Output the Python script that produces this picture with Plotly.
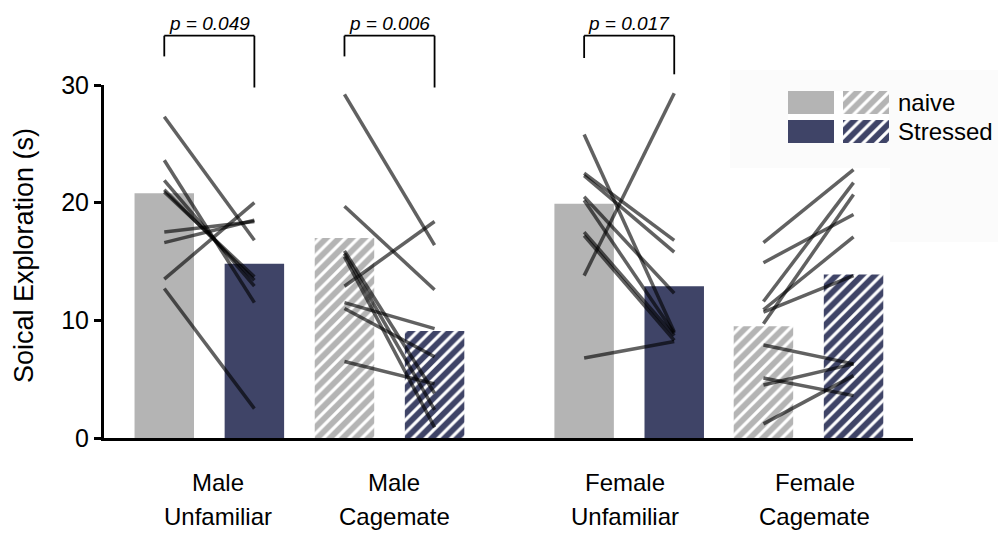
import plotly.graph_objects as go

# ---------------- data ----------------
groups = ["Male<br>Unfamiliar", "Male<br>Cagemate", "Female<br>Unfamiliar", "Female<br>Cagemate"]
conditions = ["naive", "Stressed"]
bar_naive = [20.8, 17.0, 19.9, 9.5]
bar_stressed = [14.8, 9.1, 12.9, 13.9]
hatched = [False, True, False, True]

mu_naive = [27.3, 23.6, 21.9, 21.1, 20.9, 17.5, 16.6, 13.5, 12.7]
mu_stressed = [16.8, 11.5, 12.9, 13.4, 13.7, 18.4, 18.5, 20.0, 2.5]
mc_naive = [29.2, 19.7, 15.9, 15.7, 15.4, 12.9, 11.5, 11.0, 6.5]
mc_stressed = [16.4, 12.6, 3.8, 2.4, 0.9, 18.4, 9.3, 6.9, 4.6]
fu_naive = [25.8, 13.8, 22.5, 22.3, 20.5, 20.2, 17.5, 17.2, 6.8]
fu_stressed = [9.0, 29.3, 16.8, 15.8, 12.3, 8.9, 8.7, 8.3, 8.2]
fc_naive = [16.6, 14.9, 11.6, 9.7, 10.9, 10.7, 7.9, 5.1, 4.5, 1.2]
fc_stressed = [22.8, 19.0, 21.7, 20.7, 17.1, 13.8, 6.3, 3.6, 6.3, 5.3]

subjects_naive = [mu_naive, mc_naive, fu_naive, fc_naive]
subjects_stressed = [mu_stressed, mc_stressed, fu_stressed, fc_stressed]

p_labels = ["p = 0.049", "p = 0.006", "p = 0.017"]
p_groups = [0, 1, 2]

y_ticks = [0, 10, 20, 30]

# ---------------- styles / layout ----------------
GRAY = "#b4b4b4"
NAVY = "#3f4467"
W, H = 998, 534
ML, MR, MT, MB = 104, 85, 85, 96
PW, PH = W - ML - MR, H - MT - MB

group_pos = [1.0, 3.0, 5.66, 7.65]


def px_x(p):
    return (p - ML) / PW


def px_y(p):
    return (H - MB - p) / PH


fig = go.Figure()

for gi in range(len(groups)):
    for ci, (vals, col) in enumerate([(bar_naive, GRAY), (bar_stressed, NAVY)]):
        marker = dict(color=col, line=dict(width=0))
        if hatched[gi]:
            marker["pattern"] = dict(shape="/", fgcolor="white", bgcolor=col,
                                     size=9, solidity=0.35, fillmode="replace")
        fig.add_trace(go.Bar(x=[group_pos[gi] + ci], y=[vals[gi]], width=0.66,
                             marker=marker, showlegend=False, hoverinfo="skip"))

for gi in range(len(groups)):
    for a, b in zip(subjects_naive[gi], subjects_stressed[gi]):
        fig.add_trace(go.Scatter(x=[group_pos[gi], group_pos[gi] + 1], y=[a, b],
                                 mode="lines", line=dict(color="rgba(0,0,0,0.62)", width=3.5),
                                 showlegend=False, hoverinfo="skip"))

# legend swatches on an overlay axis
leg_specs = [(23, 29, GRAY, False), (78, 29, GRAY, True), (23, 0, NAVY, False), (78, 0, NAVY, True)]
for xc, base, col, hat in leg_specs:
    marker = dict(color=col, line=dict(width=0))
    if hat:
        marker["pattern"] = dict(shape="/", fgcolor="white", bgcolor=col,
                                 size=9, solidity=0.35, fillmode="replace")
    fig.add_trace(go.Bar(x=[xc], y=[23], base=[base], width=46, marker=marker,
                         xaxis="x2", yaxis="y2", showlegend=False, hoverinfo="skip"))

shapes = [
    dict(type="rect", xref="paper", yref="paper", x0=px_x(730), x1=px_x(998),
         y0=px_y(168), y1=px_y(70), fillcolor="#fbfbfb", line=dict(width=0), layer="below"),
    dict(type="rect", xref="paper", yref="paper", x0=px_x(890), x1=px_x(998),
         y0=px_y(242), y1=px_y(168), fillcolor="#fbfbfb", line=dict(width=0), layer="below"),
]
annotations = []
bracket_legs = [(56.4, 87.5), (56.4, 87.5), (58.0, 74.3)]
for k, gi in enumerate(p_groups):
    x0, x1 = group_pos[gi], group_pos[gi] + 1
    ytop = px_y(35.7)
    yl, yr = px_y(bracket_legs[k][0]), px_y(bracket_legs[k][1])
    for (xa, ya, xb, yb) in [(x0, yl, x0, ytop), (x0, ytop, x1, ytop), (x1, ytop, x1, yr)]:
        shapes.append(dict(type="line", xref="x", yref="paper", x0=xa, y0=ya, x1=xb, y1=yb,
                           line=dict(color="black", width=1.8)))
    annotations.append(dict(x=(x0 + x1) / 2, y=ytop, xref="x", yref="paper", yanchor="bottom",
                            yshift=0, text="<i>" + p_labels[k] + "</i>", showarrow=False,
                            font=dict(size=19, color="black")))

label_shift = [0.1, 0.05, -0.05, 0.07]
for gi, g in enumerate(groups):
    for li, line_txt in enumerate(g.split("<br>")):
        annotations.append(dict(x=group_pos[gi] + 0.5 + label_shift[gi], y=px_y(483 + 33 * li),
                                xref="x", yref="paper", yanchor="middle", text=line_txt,
                                showarrow=False, font=dict(size=24, color="black")))

for k, c in enumerate(conditions):
    annotations.append(dict(x=px_x(896), y=px_y(102.5 + 29 * k), xref="paper", yref="paper",
                            xanchor="left", yanchor="middle", text=c, showarrow=False,
                            font=dict(size=24, color="black")))

annotations.append(dict(x=px_x(24), y=px_y(256), xref="paper", yref="paper", textangle=-90,
                        xanchor="center", yanchor="middle", text="Soical Exploration (s)",
                        showarrow=False, font=dict(size=27, color="black")))

fig.update_layout(
    width=W, height=H,
    margin=dict(l=ML, r=MR, t=MT, b=MB),
    paper_bgcolor="white", plot_bgcolor="white",
    font=dict(family="Liberation Sans, Arial, sans-serif", color="black"),
    barmode="overlay",
    xaxis=dict(range=[0.331, 9.31], showgrid=False, zeroline=False, showline=True,
               linecolor="black", linewidth=3, showticklabels=False, ticks="", fixedrange=True),
    yaxis=dict(range=[0, 30], tickvals=y_ticks, showgrid=False, zeroline=False, showline=True,
               linecolor="black", linewidth=3, ticks="outside", ticklen=7, tickwidth=3,
               tickcolor="black", tickfont=dict(size=25), fixedrange=True),
    xaxis2=dict(domain=[px_x(788), px_x(889)], range=[0, 101], anchor="y2", visible=False,
                fixedrange=True),
    yaxis2=dict(domain=[px_y(143), px_y(91)], range=[0, 52], anchor="x2", visible=False,
                fixedrange=True),
    shapes=shapes,
    annotations=annotations,
    showlegend=False,
)

fig.write_html("out.html")
